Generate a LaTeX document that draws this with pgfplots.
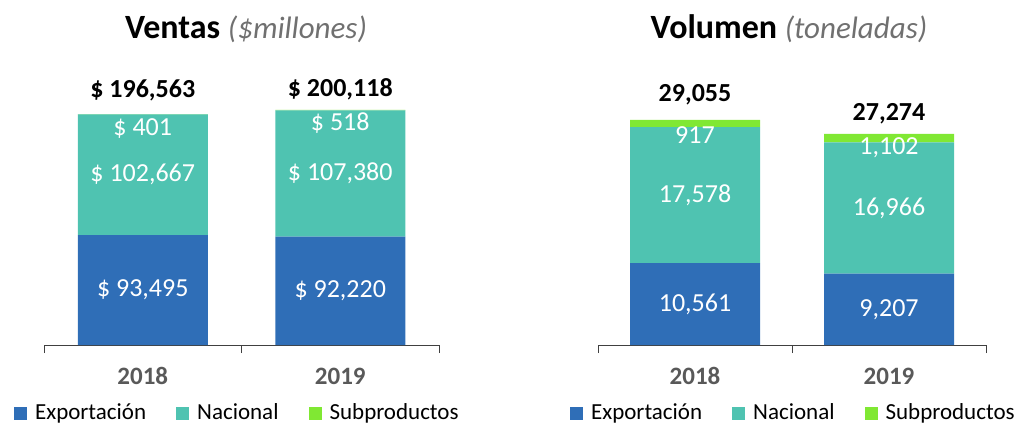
\documentclass[border=0pt]{standalone}
\usepackage{pgfplots}
\pgfplotsset{compat=1.18}
\usepackage{fontspec}
\setmainfont{Carlito}
\definecolor{cExp}{HTML}{2F6EB7}
\definecolor{cNac}{HTML}{4FC3B1}
\definecolor{cSub}{HTML}{80E833}
\definecolor{axgray}{HTML}{404040}
\definecolor{tickgray}{HTML}{595959}
\definecolor{subgray}{HTML}{707070}
\newcommand{\fs}[1]{\fontsize{#1}{#1}\selectfont}

\tikzset{
  seglabel/.style={text=white, font=\fs{26}},
  totlabel/.style={text=black, font=\bfseries\fs{26}},
}
\pgfplotsset{
  mybars/.style={
    scale only axis,
    ybar stacked,
    bar width=130pt,
    xmin=-0.5, xmax=1.5,
    ymin=0,
    axis y line=none,
    ytick=\empty,
    axis x line*=bottom,
    x axis line style={draw=axgray, line width=1pt, -},
    xtick={0,1},
    xticklabels={2018,2019},
    major tick length=0pt,
    extra x ticks={-0.5,0.5,1.5},
    extra x tick labels={},
    extra x tick style={major tick length=8pt, tick align=outside, tick style={draw=axgray, line width=1pt}},
    xticklabel style={font=\bfseries\fs{25}, text=tickgray, anchor=base, yshift=-39pt},
    legend columns=3,
    legend style={draw=none, fill=none, font=\fs{23}, inner sep=0pt,
      nodes={inner xsep=0pt, inner ysep=0pt, anchor=base west},
      /tikz/every odd column/.append style={column sep=8pt},
      /tikz/every even column/.append style={column sep=30pt}},
    legend image code/.code={\fill[#1,draw=none] (0pt,0pt) rectangle (13pt,13pt);},
  }
}

\begin{document}
\begin{tikzpicture}
\path[use as bounding box] (0pt,0pt) rectangle (1023pt,-425pt);

% Titles
\node[anchor=base] at (246pt,-39pt) {\fs{34}\bfseries Ventas \fs{31}\mdseries\itshape\color{subgray}(\$millones)};
\node[anchor=base] at (789pt,-39pt) {\fs{34}\bfseries Volumen \fs{31}\mdseries\itshape\color{subgray}(toneladas)};

% Left chart: Ventas
\begin{axis}[mybars,
  at={(44pt,-345pt)}, anchor=south west,
  width=395pt, height=293.8pt, ymax=250000,
  legend style={at={(axis description cs:0.487,-0.229)}, anchor=center},
]
\addplot[fill=cExp, draw=none] coordinates {(0,93495) (1,92220)};
\addplot[fill=cNac, draw=none] coordinates {(0,102667) (1,107380)};
\addplot[fill=cSub, draw=none] coordinates {(0,401) (1,518)};
\legend{Exportación, Nacional, Subproductos}
\coordinate (L1) at (axis cs:0,46747);
\coordinate (L2) at (axis cs:1,46110);
\coordinate (L3) at (axis cs:0,144829);
\coordinate (L4) at (axis cs:1,145910);
\coordinate (L5) at (axis cs:0,196563);
\coordinate (L6) at (axis cs:1,200118);
\end{axis}
\node[seglabel] at (L1) {\$ 93,495};
\node[seglabel] at (L2) {\$ 92,220};
\node[seglabel] at (L3) {\$ 102,667};
\node[seglabel] at (L4) {\$ 107,380};
\node[seglabel, yshift=-15pt] at (L5) {\$ 401};
\node[seglabel, yshift=-13pt] at (L6) {\$ 518};
\node[totlabel, yshift=24pt] at (L5) {\$ 196,563};
\node[totlabel, yshift=21pt] at (L6) {\$ 200,118};

% Right chart: Volumen
\begin{axis}[mybars,
  at={(598pt,-345pt)}, anchor=south west,
  width=388pt, height=271.04pt, ymax=35000,
  legend style={at={(axis description cs:0.501,-0.250)}, anchor=center},
]
\addplot[fill=cExp, draw=none] coordinates {(0,10561) (1,9207)};
\addplot[fill=cNac, draw=none] coordinates {(0,17578) (1,16966)};
\addplot[fill=cSub, draw=none] coordinates {(0,917) (1,1102)};
\legend{Exportación, Nacional, Subproductos}
\coordinate (R1) at (axis cs:0,5280);
\coordinate (R2) at (axis cs:1,4603);
\coordinate (R3) at (axis cs:0,19350);
\coordinate (R4) at (axis cs:1,17690);
\coordinate (R5) at (axis cs:0,29055);
\coordinate (R6) at (axis cs:1,27274);
\end{axis}
\node[seglabel] at (R1) {10,561};
\node[seglabel] at (R2) {9,207};
\node[seglabel] at (R3) {17,578};
\node[seglabel] at (R4) {16,966};
\node[seglabel, yshift=-15.5pt] at (R5) {917};
\node[seglabel, yshift=-14pt] at (R6) {1,102};
\node[totlabel, yshift=25pt] at (R5) {29,055};
\node[totlabel, yshift=20pt] at (R6) {27,274};
\end{tikzpicture}
\end{document}
